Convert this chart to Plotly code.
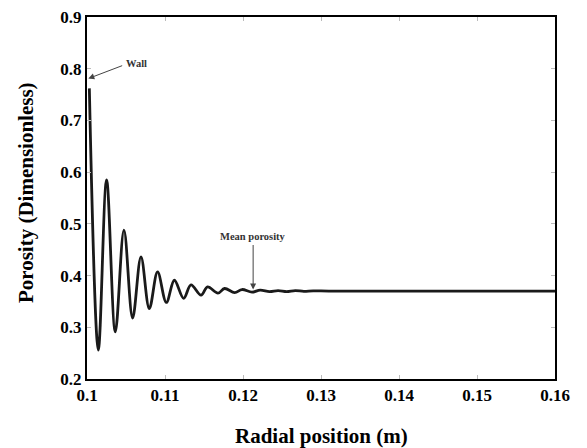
import plotly.graph_objects as go

# Extrema (radial position m, porosity)
radial_pos = [0.10030, 0.10145, 0.10251, 0.10363, 0.10474, 0.10585, 0.10692,
              0.10799, 0.10905, 0.11017, 0.11120, 0.11239, 0.11333, 0.11462, 0.11546,
              0.11679, 0.11764, 0.11893, 0.11987, 0.12115, 0.1222, 0.1234, 0.1245,
              0.1256, 0.1267, 0.1278, 0.1290, 0.1310, 0.1400, 0.1500, 0.1600]
porosity = [0.762, 0.256, 0.585, 0.291, 0.488, 0.318, 0.436,
            0.336, 0.407, 0.348, 0.391, 0.356, 0.382, 0.362, 0.378,
            0.366, 0.375, 0.367, 0.373, 0.368, 0.372, 0.369, 0.371,
            0.369, 0.371, 0.3695, 0.3705, 0.370, 0.370, 0.370, 0.370]

x_ticks = [0.1, 0.11, 0.12, 0.13, 0.14, 0.15, 0.16]
x_tick_labels = ["0.1", "0.11", "0.12", "0.13", "0.14", "0.15", "0.16"]
y_ticks = [0.2, 0.3, 0.4, 0.5, 0.6, 0.7, 0.8, 0.9]
y_tick_labels = ["0.2", "0.3", "0.4", "0.5", "0.6", "0.7", "0.8", "0.9"]

FONT = "Liberation Serif, Times New Roman, serif"

fig = go.Figure()
fig.add_trace(go.Scatter(
    x=radial_pos, y=porosity, mode="lines",
    line=dict(color="#1a1a1a", width=2.8, shape="spline", smoothing=1.0),
    showlegend=False, hoverinfo="skip"))

axis_common = dict(showgrid=False, zeroline=False, showline=True, linecolor="black",
                   linewidth=2, mirror="ticks", ticks="inside", ticklen=4,
                   tickcolor="#bbbbbb", tickwidth=1, automargin=False,
                   tickfont=dict(family=FONT, size=17, color="black", weight="bold"))

fig.update_layout(
    width=587, height=448,
    margin=dict(l=87, r=32, t=17, b=69),
    paper_bgcolor="white", plot_bgcolor="white",
    font=dict(family=FONT, size=17, color="black"),
    xaxis=dict(range=[0.1, 0.16], tickvals=x_ticks, ticktext=x_tick_labels, **axis_common),
    yaxis=dict(range=[0.2, 0.9], tickvals=y_ticks, ticktext=y_tick_labels, **axis_common),
)

# axis titles
fig.add_annotation(x=0.5, y=-0.1575, xref="paper", yref="paper",
                   text="<b>Radial position (m)</b>", showarrow=False,
                   xanchor="center", yanchor="middle",
                   font=dict(family=FONT, size=21, color="black"))
fig.add_annotation(x=-0.130, y=0.514, xref="paper", yref="paper",
                   text="<b>Porosity (Dimensionless)</b>", showarrow=False,
                   textangle=-90, xanchor="center", yanchor="middle",
                   font=dict(family=FONT, size=21, color="black"))

fig.add_annotation(x=0.10017, y=0.781, xref="x", yref="y",
                   ax=0.1047, ay=0.807, axref="x", ayref="y",
                   text="", showarrow=True, arrowhead=2, arrowsize=1.2,
                   arrowwidth=1, arrowcolor="#444444")
fig.add_annotation(x=0.1048, y=0.81, xref="x", yref="y", text="<b>Wall</b>",
                   showarrow=False, xanchor="left", yanchor="middle",
                   font=dict(family=FONT, size=10.5, color="#333333"))
fig.add_annotation(x=0.1213, y=0.373, xref="x", yref="y",
                   ax=0.1213, ay=0.462, axref="x", ayref="y",
                   text="", showarrow=True, arrowhead=2, arrowsize=1.2,
                   arrowwidth=1, arrowcolor="#444444")
fig.add_annotation(x=0.1213, y=0.476, xref="x", yref="y", text="<b>Mean porosity</b>",
                   showarrow=False, xanchor="center", yanchor="middle",
                   font=dict(family=FONT, size=10.5, color="#333333"))

fig.write_html("out.html", config={"displayModeBar": False},
               post_script="document.body.style.margin='0';document.body.style.overflow='hidden';")
